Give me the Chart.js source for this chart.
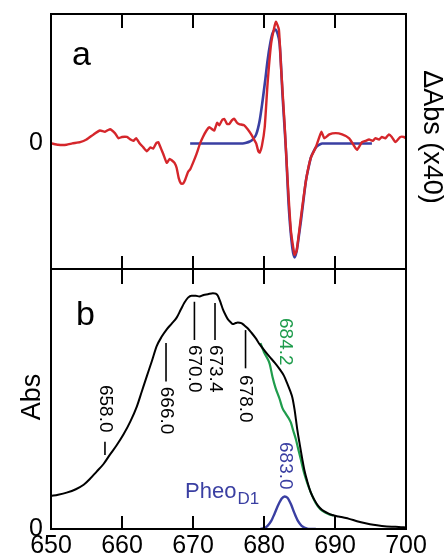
<!DOCTYPE html>
<html>
<head>
<meta charset="utf-8">
<script src="https://cdn.jsdelivr.net/npm/chart.js@4.4.1/dist/chart.umd.min.js"></script>
<style>
  html, body { margin: 0; padding: 0; background: #fff; }
  #wrap { position: relative; width: 447px; height: 559px; }
</style>
</head>
<body>
<div id="wrap"><canvas id="chart" width="447" height="559"></canvas></div>
<script>
// panel a: difference spectrum (x40) and its fit
const diffWl = [650.1, 651.0, 652.2, 653.0, 654.1, 655.0, 656.0, 656.9, 657.6, 658.3, 659.0, 659.5, 660.0, 660.7, 661.2, 661.6, 662.0, 662.5, 663.0, 663.5, 664.0, 664.4, 664.8, 665.1, 665.5, 665.8, 666.3, 666.7, 667.0, 667.4, 667.7, 668.0, 668.3, 668.6, 668.9, 669.3, 669.6, 670.0, 670.5, 671.0, 671.4, 671.9, 672.3, 672.7, 673.0, 673.4, 673.7, 674.1, 674.4, 674.8, 675.1, 675.5, 675.8, 676.2, 676.5, 677.2, 677.7, 678.2, 678.6, 678.9, 679.2, 679.4, 679.7, 680.1, 680.5, 681.0, 681.5, 681.7, 682.1, 682.4, 682.9, 683.3, 683.8, 684.3, 684.6, 685.2, 685.9, 686.6, 687.3, 687.8, 688.1, 688.5, 689.2, 690.1, 691.0, 692.0, 692.7, 693.1, 693.8, 694.3, 694.8, 695.3, 695.7, 696.2, 696.6, 697.1, 697.6, 698.0, 698.5, 699.2, 699.7, 700.0];
const diffVal = [0.00, -0.01, -0.01, 0.00, 0.01, 0.03, 0.07, 0.10, 0.09, 0.11, 0.08, 0.04, 0.05, 0.05, 0.03, 0.02, 0.04, 0.00, -0.03, -0.06, -0.03, -0.04, 0.00, 0.01, -0.04, -0.08, -0.15, -0.12, -0.13, -0.15, -0.19, -0.27, -0.31, -0.31, -0.28, -0.22, -0.20, -0.15, -0.08, 0.00, 0.05, 0.10, 0.125, 0.11, 0.10, 0.16, 0.14, 0.18, 0.19, 0.15, 0.15, 0.18, 0.19, 0.16, 0.15, 0.14, 0.11, 0.07, 0.03, 0.00, -0.06, -0.07, -0.02, 0.125, 0.46, 0.77, 0.91, 0.94, 0.88, 0.59, 0.15, -0.26, -0.68, -0.86, -0.83, -0.57, -0.29, -0.11, -0.03, 0.05, 0.09, 0.04, 0.07, 0.08, 0.07, 0.04, -0.02, -0.05, 0.01, 0.02, 0.03, 0.02, 0.04, 0.03, 0.05, 0.04, 0.07, 0.05, 0.01, 0.05, 0.05, 0.04];
const fitWl = [669.6, 677.0, 677.5, 678.0, 678.4, 678.9, 679.4, 679.8, 680.2, 680.5, 680.9, 681.2, 681.6, 681.9, 682.2, 682.4, 682.6, 682.9, 683.1, 683.5, 684.0, 684.3, 684.6, 684.9, 685.2, 685.6, 685.9, 686.3, 686.6, 687.0, 687.3, 687.8, 688.2, 695.2];
const fitVal = [0, 0, 0.005, 0.015, 0.03, 0.07, 0.18, 0.33, 0.5, 0.64, 0.78, 0.85, 0.88, 0.85, 0.77, 0.6, 0.38, 0.12, -0.06, -0.5, -0.81, -0.88, -0.83, -0.72, -0.6, -0.42, -0.29, -0.18, -0.11, -0.06, -0.03, -0.01, 0, 0];

// panel b: absorption spectrum, green component, PheoD1 band
const absWl = [650.0, 651.0, 652.2, 653.5, 654.6, 655.5, 656.4, 657.4, 658.3, 659.2, 660.2, 661.2, 662.1, 662.8, 663.5, 664.2, 664.9, 665.6, 666.3, 667.0, 667.7, 668.3, 668.8, 669.3, 669.8, 670.4, 670.9, 671.5, 672.1, 672.8, 673.2, 673.5, 673.9, 674.2, 674.6, 674.9, 675.3, 675.6, 676.0, 676.3, 676.8, 677.2, 677.7, 678.2, 678.8, 679.4, 680.1, 680.8, 681.5, 682.2, 682.8, 683.3, 683.7, 684.0, 684.3, 684.5, 684.7, 685.0, 685.4, 685.7, 686.1, 686.6, 687.1, 687.6, 688.2, 688.9, 689.6, 690.5, 691.2, 692.0, 693.1, 694.3, 695.4, 696.6, 698.0, 699.0, 700.0];
const absVal = [0.127, 0.132, 0.14, 0.153, 0.17, 0.193, 0.22, 0.25, 0.286, 0.32, 0.363, 0.415, 0.472, 0.53, 0.588, 0.645, 0.704, 0.74, 0.768, 0.79, 0.813, 0.845, 0.871, 0.89, 0.897, 0.897, 0.894, 0.9, 0.903, 0.907, 0.905, 0.897, 0.87, 0.846, 0.822, 0.807, 0.795, 0.788, 0.792, 0.794, 0.792, 0.784, 0.772, 0.756, 0.735, 0.71, 0.685, 0.662, 0.64, 0.615, 0.59, 0.558, 0.53, 0.505, 0.46, 0.421, 0.38, 0.331, 0.268, 0.225, 0.183, 0.14, 0.112, 0.09, 0.073, 0.062, 0.054, 0.048, 0.044, 0.039, 0.03, 0.022, 0.016, 0.012, 0.009, 0.008, 0.006];
const greenWl = [679.5, 680.0, 680.5, 680.8, 681.2, 681.6, 682.2, 682.6, 683.1, 683.5, 683.8, 684.1, 684.5, 684.8, 685.2, 685.6, 686.1, 686.6, 687.3, 687.9, 688.5, 689.2, 689.8];
const greenVal = [0.715, 0.68, 0.655, 0.635, 0.585, 0.545, 0.5, 0.465, 0.442, 0.425, 0.408, 0.38, 0.344, 0.31, 0.266, 0.22, 0.176, 0.14, 0.099, 0.077, 0.065, 0.056, 0.052];
const pheoWl = [679.5, 680.0, 680.5, 681.0, 681.5, 682.0, 682.5, 682.9, 683.3, 683.8, 684.3, 684.8, 685.3, 685.8, 686.3, 687.3];
const pheoVal = [0, 0.003, 0.012, 0.03, 0.06, 0.092, 0.117, 0.125, 0.12, 0.095, 0.06, 0.03, 0.012, 0.004, 0, 0];

// axis ticks
const xTicks = [650, 660, 670, 680, 690, 700];
const innerTicks = [660, 670, 680, 690];

// band markers in panel b (wavelength where the bar is drawn, bar span and label start in Abs units)
const peakLabels = ["658.0", "666.0", "670.0", "673.4", "678.0"];
const peakX = [657.6, 666.2, 670.2, 673.1, 677.4];
const peakBarTop = [0.336, 0.715, 0.874, 0.869, 0.765];
const peakBarBottom = [0.285, 0.567, 0.727, 0.727, 0.618];
const peakTextTop = [0.554, 0.547, 0.708, 0.708, 0.592];

const FONT = "'Liberation Sans', Arial, Helvetica, sans-serif";
const BLUE = "#3a3fa2";
const GREEN = "#1f9c4c";

function pts(xs, ys) {
  return xs.map((x, i) => ({ x: x, y: ys[i] }));
}

// frame, inward ticks and text
const decorPlugin = {
  id: "decor",
  afterDraw(chart) {
    const ctx = chart.ctx;
    const a = chart.chartArea;
    const x = chart.scales.x, yA = chart.scales.yA, yB = chart.scales.yB;
    ctx.save();
    ctx.strokeStyle = "#000";
    ctx.lineWidth = 2;
    ctx.strokeRect(a.left, a.top, a.right - a.left, a.bottom - a.top);
    ctx.beginPath();
    ctx.moveTo(a.left, yA.bottom);
    ctx.lineTo(a.right, yA.bottom);
    ctx.stroke();

    innerTicks.forEach(v => {
      const px = x.getPixelForValue(v);
      [[yA.top, 14], [yA.bottom, -13], [yB.top, 15], [yB.bottom, -13]].forEach(t => {
        ctx.beginPath();
        ctx.moveTo(px, t[0]);
        ctx.lineTo(px, t[0] + t[1]);
        ctx.stroke();
      });
    });

    ctx.fillStyle = "#000";
    ctx.textAlign = "left";
    ctx.textBaseline = "alphabetic";
    ctx.font = "34px " + FONT;
    ctx.fillText("a", 72, 65);
    ctx.fillText("b", 76, 325);

    // axis titles
    ctx.font = "27px " + FONT;
    ctx.save();
    ctx.translate(40, 397);
    ctx.rotate(-Math.PI / 2);
    ctx.textAlign = "center";
    ctx.fillText("Abs", 0, 0);
    ctx.restore();

    ctx.save();
    ctx.translate(431, 137);
    ctx.rotate(Math.PI / 2);
    ctx.textAlign = "center";
    ctx.textBaseline = "middle";
    ctx.fillText("\u0394Abs (x40)", 0, 0);
    ctx.restore();

    // band markers
    ctx.lineWidth = 1.6;
    ctx.font = "19px " + FONT;
    peakLabels.forEach((lab, i) => {
      const px = x.getPixelForValue(peakX[i]);
      ctx.beginPath();
      ctx.moveTo(px, yB.getPixelForValue(peakBarTop[i]));
      ctx.lineTo(px, yB.getPixelForValue(peakBarBottom[i]));
      ctx.stroke();
      ctx.save();
      ctx.translate(px, yB.getPixelForValue(peakTextTop[i]));
      ctx.rotate(Math.PI / 2);
      ctx.textAlign = "left";
      ctx.textBaseline = "middle";
      ctx.fillText(lab, 0, 0);
      ctx.restore();
    });

    const rot = (txt, color, px, py) => {
      ctx.save();
      ctx.fillStyle = color;
      ctx.translate(px, py);
      ctx.rotate(Math.PI / 2);
      ctx.textAlign = "left";
      ctx.textBaseline = "middle";
      ctx.fillText(txt, 0, 0);
      ctx.restore();
    };
    rot("684.2", GREEN, x.getPixelForValue(683.0), 318);
    rot("683.0", BLUE, x.getPixelForValue(683.0), 442);

    ctx.fillStyle = BLUE;
    ctx.textAlign = "left";
    ctx.textBaseline = "alphabetic";
    ctx.font = "22px " + FONT;
    ctx.fillText("Pheo", 185, 498);
    const w = ctx.measureText("Pheo").width;
    ctx.font = "17px " + FONT;
    ctx.fillText("D1", 185 + w + 1, 504);
    ctx.restore();
  }
};

const onlyZero = axis => { axis.ticks = [{ value: 0 }]; };
const fixY = axis => {
  axis.width = 51;
  axis.paddingTop = 0;
  axis.paddingBottom = 0;
};

new Chart(document.getElementById("chart"), {
  type: "line",
  data: {
    datasets: [
      { data: pts(diffWl, diffVal), yAxisID: "yA", borderColor: "#d5262b", borderWidth: 2.4, tension: 0.15 },
      { data: pts(fitWl, fitVal), yAxisID: "yA", borderColor: BLUE, borderWidth: 2.6, cubicInterpolationMode: "monotone" },
      { data: pts(absWl, absVal), yAxisID: "yB", borderColor: "#000", borderWidth: 2, cubicInterpolationMode: "monotone" },
      { data: pts(greenWl, greenVal), yAxisID: "yB", borderColor: GREEN, borderWidth: 2.2, cubicInterpolationMode: "monotone" },
      { data: pts(pheoWl, pheoVal), yAxisID: "yB", borderColor: BLUE, borderWidth: 2.4, cubicInterpolationMode: "monotone" }
    ]
  },
  options: {
    responsive: false,
    animation: false,
    devicePixelRatio: 1,
    layout: { padding: { top: 14, right: 41, left: 0, bottom: 0 } },
    elements: { point: { radius: 0 } },
    plugins: { legend: { display: false }, tooltip: { enabled: false } },
    scales: {
      x: {
        type: "linear",
        min: 650,
        max: 700,
        afterBuildTicks: axis => { axis.ticks = xTicks.map(v => ({ value: v })); },
        afterFit: axis => {
          axis.height = 30;
          axis.paddingLeft = 0;
          axis.paddingRight = 0;
        },
        grid: { display: false, drawTicks: false },
        border: { display: false },
        ticks: { color: "#000", font: { family: FONT, size: 25 }, padding: 2, maxRotation: 0 }
      },
      yA: {
        type: "linear",
        position: "left",
        stack: "panels",
        stackWeight: 255,
        weight: 2,
        min: -0.97,
        max: 1,
        afterBuildTicks: onlyZero,
        afterFit: fixY,
        grid: { display: false, drawTicks: false },
        border: { display: false },
        ticks: { color: "#000", font: { family: FONT, size: 25 }, padding: 8 }
      },
      yB: {
        type: "linear",
        position: "left",
        stack: "panels",
        stackWeight: 260,
        weight: 1,
        min: 0,
        max: 1,
        afterBuildTicks: onlyZero,
        afterFit: fixY,
        grid: { display: false, drawTicks: false },
        border: { display: false },
        ticks: { color: "#000", font: { family: FONT, size: 25 }, padding: 8 }
      }
    }
  },
  plugins: [decorPlugin]
});
</script>
</body>
</html>
